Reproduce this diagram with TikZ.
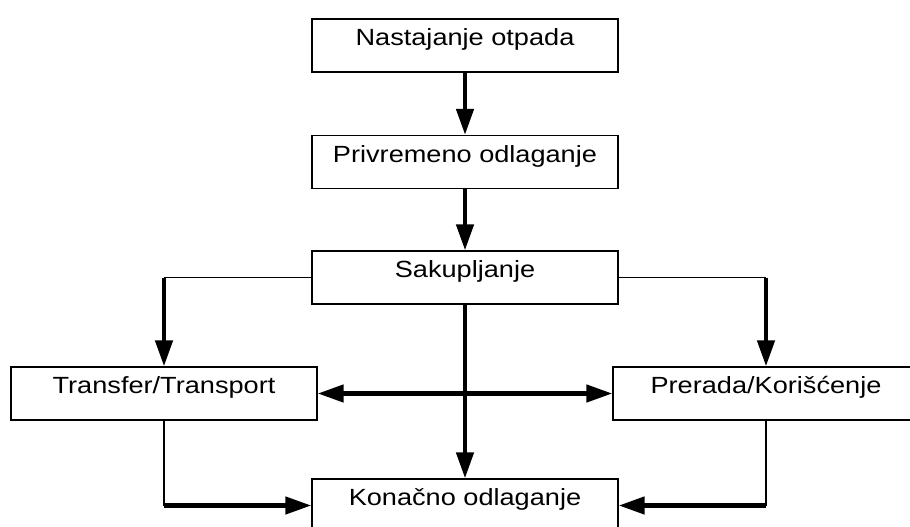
\documentclass[tikz,border=0pt]{standalone}
\usepackage{fontspec}
\setmainfont{Liberation Sans}[FakeStretch=1.16]
\usetikzlibrary{arrows.meta}

\begin{document}
\begin{tikzpicture}[x=1pt,y=-1pt,
  stage/.style={draw=black, line width=1.3pt, fill=white, rectangle,
    minimum width=306pt, inner xsep=0pt, inner ysep=0pt,
    text height=26.5pt, text depth=26.5pt,
    font=\fontsize{23.4pt}{26pt}\selectfont},
  thin/.style={line width=1.3pt},
  flow/.style={line width=4.5pt, -{Triangle[length=26pt,width=17pt]}},
  bothflow/.style={line width=4.5pt, {Triangle[length=26pt,width=17pt]}-{Triangle[length=26pt,width=17pt]}}
]
\useasboundingbox (0,0) rectangle (910,527);

% process stages
\node[stage] (nast) at (465,45.5)  {Nastajanje otpada};
\node[stage] (priv) at (465,162)   {Privremeno odlaganje};
\node[stage] (sak)  at (465,277.5) {Sakupljanje};
\node[stage] (tr)   at (164,393.5) {Transfer/Transport};
\node[stage] (pr)   at (766,393.5) {Prerada/Korišćenje};
\node[stage] (kon)  at (465,505.5) {Konačno odlaganje};

% branch corners
\coordinate (sl) at (tr.north |- sak.west);
\coordinate (sr) at (pr.north |- sak.east);
\coordinate (tl) at (tr.south |- kon.west);
\coordinate (tr2) at (pr.south |- kon.east);

% main chain
\draw[flow] (nast.south) -- (priv.north);
\draw[flow] (priv.south) -- (sak.north);

% collection splits to both sides
\draw[thin] (sak.west) -- (sl);
\draw[flow] (sl) -- (tr.north);
\draw[thin] (sak.east) -- (sr);
\draw[flow] (sr) -- (pr.north);

% transfer <-> processing
\draw[bothflow] (tr.east) -- (pr.west);

% straight to final disposal
\draw[flow] (sak.south) -- (kon.north);

% side routes to final disposal
\draw[thin] (tr.south) -- (tl);
\draw[flow] (tl) -- (kon.west);
\draw[thin] (pr.south) -- (tr2);
\draw[flow] (tr2) -- (kon.east);
\end{tikzpicture}
\end{document}
